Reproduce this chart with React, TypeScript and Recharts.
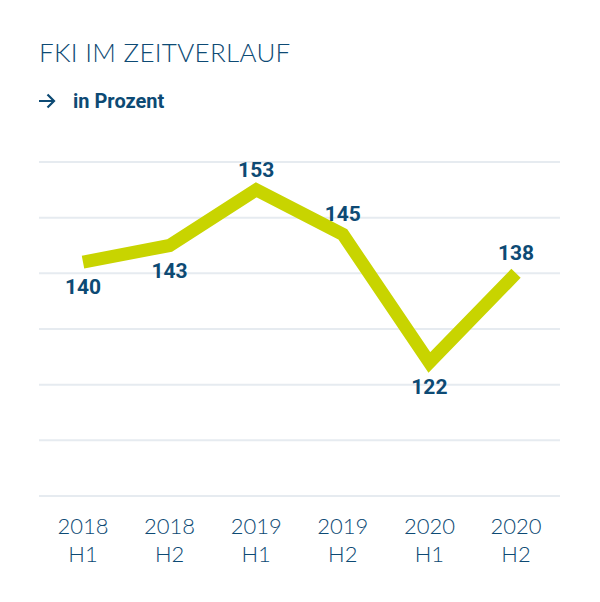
import { LineChart, Line, XAxis, YAxis, CartesianGrid, LabelList } from "recharts";

const periods = ["2018 H1", "2018 H2", "2019 H1", "2019 H2", "2020 H1", "2020 H2"];
const fkiValues = [140, 143, 153, 145, 122, 138];
const yTicks = [98, 108, 118, 128, 138, 148, 158];

const data = periods.map((period, i) => ({ period, fki: fkiValues[i] }));

const BLUE = "#0d4a74";
const LIME = "#c8d400";

function PeriodTick({ x, y, payload }: any) {
  const [year, half] = String(payload.value).split(" ");
  return (
    <text
      x={x}
      y={y}
      textAnchor="middle"
      fill={BLUE}
      fontFamily="Lato, sans-serif"
      fontWeight={300}
      fontSize={22}
    >
      <tspan x={x} dy={30}>
        {year}
      </tspan>
      <tspan x={x} dy={28}>
        {half}
      </tspan>
    </text>
  );
}

// label goes below the point when the line rises afterwards, otherwise above
function ValueLabel({ x, y, value, index }: any) {
  const next = fkiValues[index + 1];
  const prev = fkiValues[index - 1];
  const below = next !== undefined ? next > value : prev > value;
  return (
    <text
      x={x}
      y={below ? y + 25 : y - 20}
      textAnchor="middle"
      dominantBaseline="central"
      fill={BLUE}
      fontFamily="Roboto, sans-serif"
      fontWeight={700}
      fontSize={21}
    >
      {value}
    </text>
  );
}

export default function App() {
  return (
    <div
      style={{
        position: "relative",
        width: 600,
        height: 602,
        margin: -8,
        background: "#fff",
        overflow: "hidden",
      }}
    >
      <div
        style={{
          position: "absolute",
          left: 39,
          top: 36,
          fontFamily: "Lato, sans-serif",
          fontWeight: 300,
          fontSize: 26,
          letterSpacing: 0.3,
          color: BLUE,
          whiteSpace: "nowrap",
        }}
      >
        FKI IM ZEITVERLAUF
      </div>
      <div
        style={{
          position: "absolute",
          left: 38,
          top: 89,
          display: "flex",
          alignItems: "center",
          fontFamily: "Roboto, sans-serif",
          fontWeight: 700,
          fontSize: 20,
          color: BLUE,
          whiteSpace: "nowrap",
        }}
      >
        <svg width={18} height={16} viewBox="0 0 18 16" style={{ marginRight: 17 }}>
          <path
            d="M1 8 H16 M9.5 1.5 L16 8 L9.5 14.5"
            fill="none"
            stroke={BLUE}
            strokeWidth={2.2}
          />
        </svg>
        in Prozent
      </div>
      <LineChart
        width={600}
        height={602}
        data={data}
        margin={{ top: 162, right: 40, bottom: 46, left: 39 }}
      >
        <CartesianGrid vertical={false} stroke="#e6ebf0" strokeWidth={2} />
        <YAxis hide domain={[98, 158]} ticks={yTicks} />
        <XAxis
          dataKey="period"
          height={60}
          axisLine={false}
          tickLine={false}
          interval={0}
          padding={{ left: 44, right: 44 }}
          tick={<PeriodTick />}
        />
        <Line
          type="linear"
          dataKey="fki"
          stroke={LIME}
          strokeWidth={13}
          strokeLinejoin="miter"
          strokeLinecap="butt"
          dot={false}
          activeDot={false}
          isAnimationActive={false}
        >
          <LabelList dataKey="fki" content={<ValueLabel />} />
        </Line>
      </LineChart>
    </div>
  );
}
